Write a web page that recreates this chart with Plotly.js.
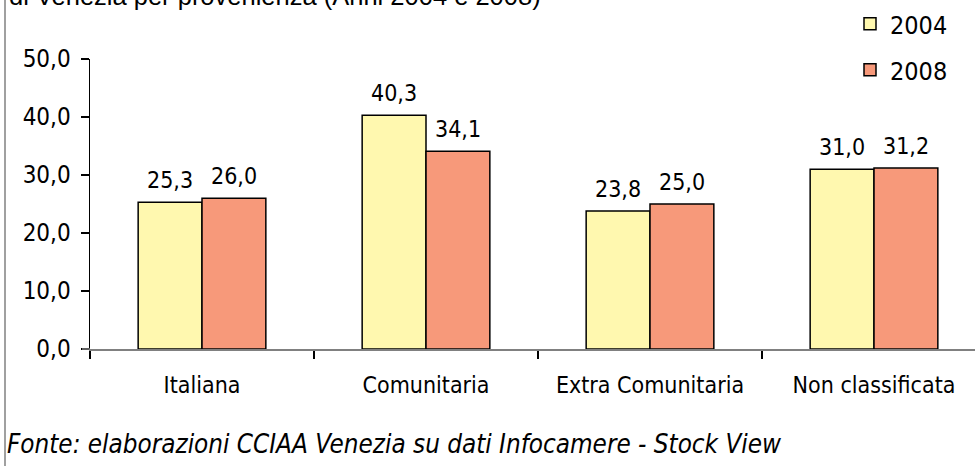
<!DOCTYPE html>
<html>
<head>
<meta charset="utf-8">
<script src="https://cdn.plot.ly/plotly-3.0.1.min.js"></script>
<style>html,body{margin:0;padding:0;background:#fff;}#chart{width:975px;height:466px;}</style>
</head>
<body>
<div id="chart"></div>
<script>
var categories = ["Italiana", "Comunitaria", "Extra Comunitaria", "Non classificata"];
var values2004 = [25.3, 40.3, 23.8, 31.0];
var values2008 = [26.0, 34.1, 25.0, 31.2];
var seriesNames = ["2004", "2008"];
var yTicks = [0, 10, 20, 30, 40, 50];
var titleText = "di Venezia per provenienza (Anni 2004 e 2008)";
var sourceText = "Fonte: elaborazioni CCIAA Venezia su dati Infocamere - Stock View";

var FONT = "DejaVu Sans Condensed, DejaVu Sans, sans-serif";
var W = 975, H = 466, L = 90, R = 0, T = 59, B = 117;
var pw = W - L - R, ph = H - T - B;
var CAT_PX = 224;
function px(x) { return (x - L) / pw; }
function py(y) { return (H - B - y) / ph; }

var t1 = {
  type: "bar", x: categories, y: values2004, name: seriesNames[0], legend: "legend",
  hoverinfo: "none",
  marker: {color: "#FFF8AF", line: {color: "#000", width: 1.5}}
};
var t2 = {
  type: "bar", x: categories, y: values2008, name: seriesNames[1], legend: "legend2",
  hoverinfo: "none",
  marker: {color: "#F7997A", line: {color: "#000", width: 1.5}}
};

var legendBase = {
  font: {family: FONT, size: 25, color: "#000"},
  bgcolor: "rgba(0,0,0,0)",
  xanchor: "left", yanchor: "middle",
  itemwidth: 30, tracegroupgap: 0
};

// data labels from the series arrays, positioned by the axes
var labelAnns = [];
var bargap = 0.43;
var barPx = CAT_PX * (1 - bargap) / 2;
[values2004, values2008].forEach(function (vals, s) {
  vals.forEach(function (v, i) {
    labelAnns.push({
      x: categories[i], y: v, xref: "x", yref: "y",
      text: v.toFixed(1).replace(".", ","),
      xshift: (s === 0 ? -1 : 1) * barPx / 2,
      yshift: 7, yanchor: "bottom", xanchor: "center",
      showarrow: false,
      font: {family: FONT, size: 23, color: "#000"}
    });
  });
});

var layout = {
  width: W, height: H,
  margin: {l: L, r: R, t: T, b: B},
  paper_bgcolor: "#fff", plot_bgcolor: "#fff",
  separators: ",.",
  barmode: "group",
  bargap: bargap, bargroupgap: 0,
  font: {family: FONT, size: 22, color: "#000"},
  showlegend: true,
  legend: Object.assign({}, legendBase, {x: px(850), y: py(24)}),
  legend2: Object.assign({}, legendBase, {x: px(850), y: py(70)}),
  xaxis: {
    range: [-0.5, -0.5 + pw / CAT_PX],
    showline: true, linecolor: "#808080", linewidth: 1.5,
    ticks: "outside", tickson: "boundaries", ticklen: 8, tickcolor: "#000", tickwidth: 1.5,
    showgrid: false, zeroline: false,
    tickfont: {family: FONT, size: 23, color: "#000"},
    ticklabelstandoff: 15
  },
  yaxis: {
    range: [0, 50], tickvals: yTicks, tickformat: ".1f",
    showline: true, linecolor: "#000", linewidth: 1.5,
    ticks: "outside", ticklen: 8, tickcolor: "#000", tickwidth: 1.5,
    showgrid: false, zeroline: false,
    tickfont: {family: FONT, size: 24, color: "#000"},
    ticklabelstandoff: 5
  },
  shapes: [
    {type: "line", xref: "paper", yref: "paper", x0: px(5), x1: px(5), y0: py(0), y1: py(466), line: {color: "#808080", width: 1.5}},
    {type: "line", xref: "paper", yref: "paper", x0: px(82), x1: px(90), y0: 0, y1: 0, line: {color: "#808080", width: 1.5}}
  ],
  annotations: labelAnns.concat([
    {text: titleText, xref: "paper", yref: "paper", x: px(7), y: py(-4), xanchor: "left", yanchor: "middle", showarrow: false, font: {family: "Liberation Sans, Arial, sans-serif", size: 25.5, color: "#000"}},
    {text: "<i>" + sourceText + "</i>", xref: "paper", yref: "paper", x: px(5), y: py(444), xanchor: "left", yanchor: "middle", showarrow: false, font: {family: FONT, size: 25.8, color: "#000"}}
  ])
};

Plotly.newPlot("chart", [t1, t2], layout, {displayModeBar: false, staticPlot: true});
</script>
</body>
</html>
